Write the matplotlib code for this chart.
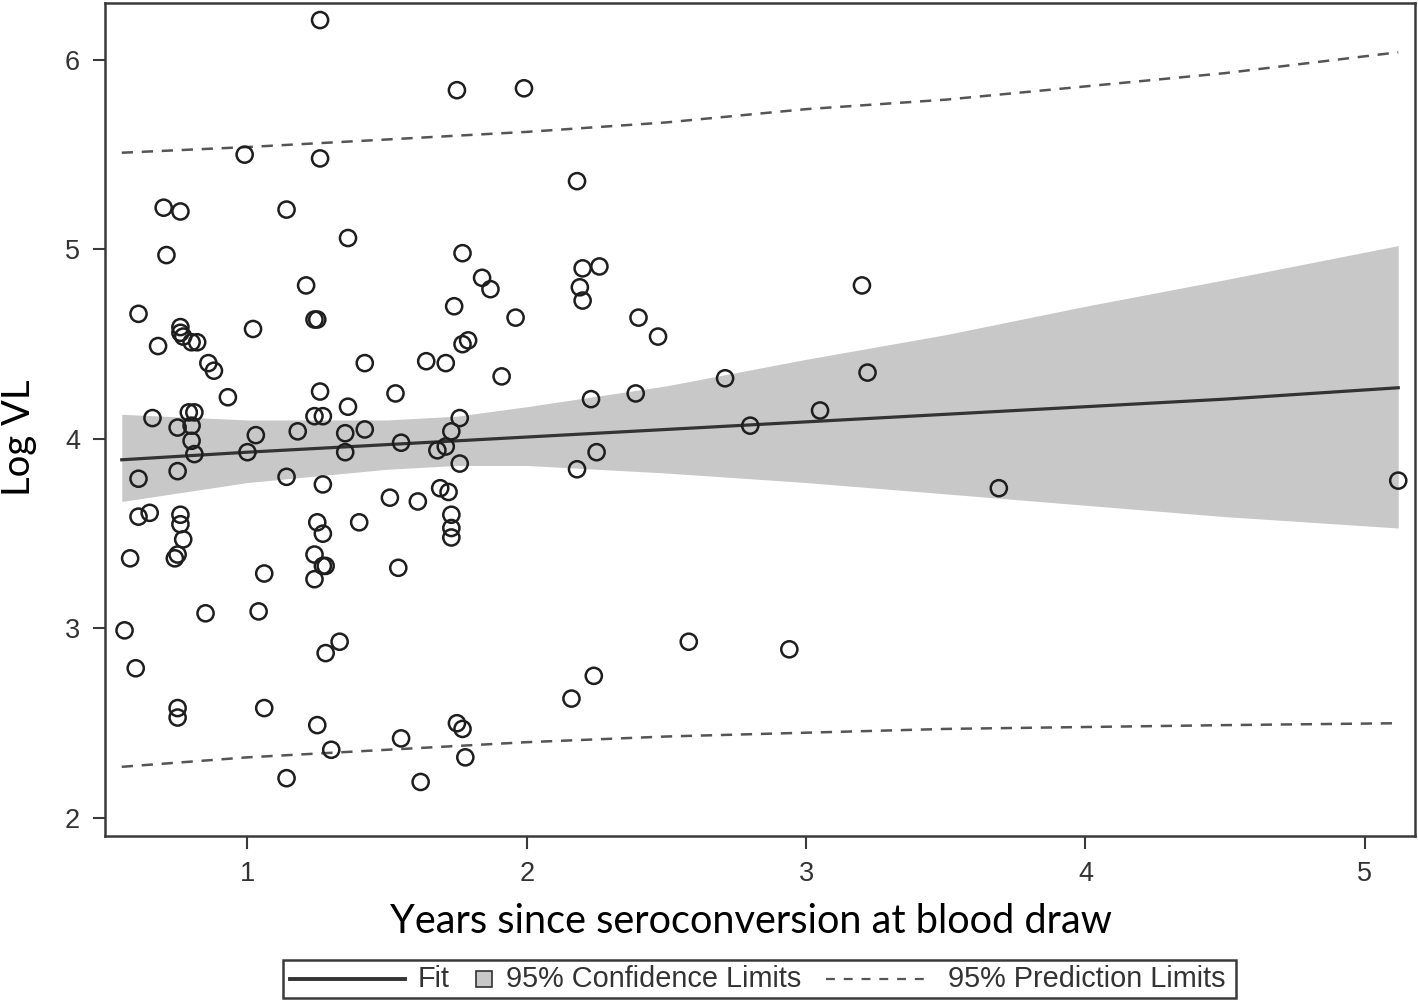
import matplotlib
matplotlib.use("Agg")
import matplotlib.pyplot as plt
from matplotlib.lines import Line2D
from matplotlib.patches import Rectangle

# observed points: years since seroconversion vs log viral load
years = [
    1.26, 1.75, 1.99, 0.99, 1.26, 2.18, 0.70, 0.76, 1.14, 1.36,
    0.71, 1.77, 2.20, 2.26, 1.84, 1.87, 2.19, 2.20, 3.20, 1.21,
    0.61, 1.74, 1.96, 2.40, 2.47, 0.68, 0.76, 0.76, 0.77, 0.80,
    0.82, 1.02, 1.24, 1.25, 0.86, 0.88, 0.93, 0.66, 0.79, 0.81,
    0.75, 0.80, 0.80, 0.81, 1.03, 1.00, 1.18, 1.26, 1.24, 1.27,
    1.36, 1.35, 1.35, 1.42, 1.42, 1.64, 1.71, 1.77, 1.79, 1.91,
    1.53, 1.76, 1.73, 1.55, 1.68, 1.71, 1.76, 2.71, 3.22, 2.23,
    2.39, 3.05, 2.80, 2.25, 2.18, 0.61, 0.75, 1.14, 1.27, 1.51,
    1.61, 1.69, 1.72, 0.61, 0.65, 0.76, 0.76, 0.77, 0.75, 0.74,
    0.58, 1.06, 1.25, 1.27, 1.40, 1.24, 1.27, 1.28, 1.24, 1.54,
    1.73, 1.73, 1.73, 3.69, 5.12, 0.85, 1.04, 0.56, 0.60, 1.33,
    1.28, 2.58, 2.94, 0.75, 0.75, 1.06, 2.16, 2.24, 1.25, 1.30,
    1.55, 1.75, 1.77, 1.78, 1.14, 1.62,
]
log_vl = [
    6.21, 5.84, 5.85, 5.50, 5.48, 5.36, 5.22, 5.20, 5.21, 5.06,
    4.97, 4.98, 4.90, 4.91, 4.85, 4.79, 4.80, 4.73, 4.81, 4.81,
    4.66, 4.70, 4.64, 4.64, 4.54, 4.49, 4.59, 4.56, 4.54, 4.51,
    4.51, 4.58, 4.63, 4.63, 4.40, 4.36, 4.22, 4.11, 4.14, 4.14,
    4.06, 4.07, 3.99, 3.92, 4.02, 3.93, 4.04, 4.25, 4.12, 4.12,
    4.17, 4.03, 3.93, 4.05, 4.40, 4.41, 4.40, 4.50, 4.52, 4.33,
    4.24, 4.11, 4.04, 3.98, 3.94, 3.96, 3.87, 4.32, 4.35, 4.21,
    4.24, 4.15, 4.07, 3.93, 3.84, 3.79, 3.83, 3.80, 3.76, 3.69,
    3.67, 3.74, 3.72, 3.59, 3.61, 3.60, 3.55, 3.47, 3.39, 3.37,
    3.37, 3.29, 3.56, 3.50, 3.56, 3.39, 3.33, 3.33, 3.26, 3.32,
    3.60, 3.53, 3.48, 3.74, 3.78, 3.08, 3.09, 2.99, 2.79, 2.93,
    2.87, 2.93, 2.89, 2.58, 2.53, 2.58, 2.63, 2.75, 2.49, 2.36,
    2.42, 2.50, 2.47, 2.32, 2.21, 2.19,
]

# fitted line and limits, read at a few x positions
fit_x = [0.55, 1.0, 1.5, 1.75, 2.0, 2.5, 3.0, 3.5, 4.0, 4.5, 5.12]
fit_y = [3.89, 3.93, 3.97, 3.99, 4.01, 4.05, 4.09, 4.13, 4.17, 4.21, 4.27]
ci_hi = [4.13, 4.10, 4.10, 4.12, 4.17, 4.28, 4.42, 4.55, 4.70, 4.84, 5.02]
ci_lo = [3.67, 3.77, 3.84, 3.86, 3.86, 3.82, 3.77, 3.71, 3.65, 3.59, 3.53]
pi_hi = [5.51, 5.54, 5.58, 5.60, 5.62, 5.67, 5.74, 5.79, 5.86, 5.93, 6.04]
pi_lo = [2.27, 2.32, 2.36, 2.38, 2.40, 2.43, 2.45, 2.47, 2.48, 2.49, 2.50]

W, H = 1418, 1002
dark = "#333333"
band = "#c8c8c8"

fig = plt.figure(figsize=(W / 100, H / 100), dpi=100)
ax = fig.add_axes([105 / W, 1 - 836 / H, (1415 - 105) / W, (836 - 3) / H])

ax.fill_between(fit_x, ci_lo, ci_hi, color=band, lw=0, zorder=1)
ax.plot(fit_x, fit_y, color=dark, lw=2.3, zorder=2)
ax.plot(fit_x, pi_hi, color="#555555", lw=1.8, ls=(0, (4.5, 3.5)), zorder=2)
ax.plot(fit_x, pi_lo, color="#555555", lw=1.8, ls=(0, (4.5, 3.5)), zorder=2)
ax.scatter(years, log_vl, s=135, facecolors="none", edgecolors="#1e1e1e",
           linewidths=1.8, zorder=3)

ax.set_xlim(0.49, 5.18)
ax.set_ylim(1.905, 6.30)
ax.set_xticks([1, 2, 3, 4, 5])
ax.set_yticks([2, 3, 4, 5, 6])
for s in ax.spines.values():
    s.set_color("#3a3a3a")
    s.set_linewidth(1.8)
ax.tick_params(direction="out", length=9, width=1.5, color="#3a3a3a",
               labelsize=19.5, labelcolor=dark, pad=9)
for lab in ax.get_xticklabels() + ax.get_yticklabels():
    lab.set_fontfamily("Liberation Sans")

fig.text(751 / W, 1 - 933 / H, "Years since seroconversion at blood draw",
         ha="center", va="baseline", fontsize=28.6, family="Lato", color="black")
fig.text(37 / W, 1 - 438 / H, "Log VL", rotation=90, ha="right", va="center",
         fontsize=27.5, family="Lato", color="black")

# legend box drawn by hand to get the SAS layout
yc = 1 - 979 / H
fig.add_artist(Rectangle((283 / W, 1 - 998 / H), (1236 - 283) / W, 38 / H,
                         transform=fig.transFigure, fill=False,
                         edgecolor="#3a3a3a", lw=1.8))
fig.add_artist(Line2D([290 / W, 405 / W], [yc, yc], transform=fig.transFigure,
                      color=dark, lw=2.8))
fig.add_artist(Rectangle((476 / W, 1 - 987 / H), 16 / W, 16 / H,
                         transform=fig.transFigure, facecolor=band,
                         edgecolor=dark, lw=1.2))
fig.add_artist(Line2D([826 / W, 930 / W], [yc, yc], transform=fig.transFigure,
                      color="#555555", lw=1.6, ls=(0, (4, 4))))
leg_font = dict(fontsize=20.8, family="Liberation Sans", color=dark, va="center")
fig.text(418 / W, yc, "Fit", **leg_font)
fig.text(506 / W, yc, "95% Confidence Limits", **leg_font)
fig.text(948 / W, yc, "95% Prediction Limits", **leg_font)

fig.savefig("out.png", dpi=100)
